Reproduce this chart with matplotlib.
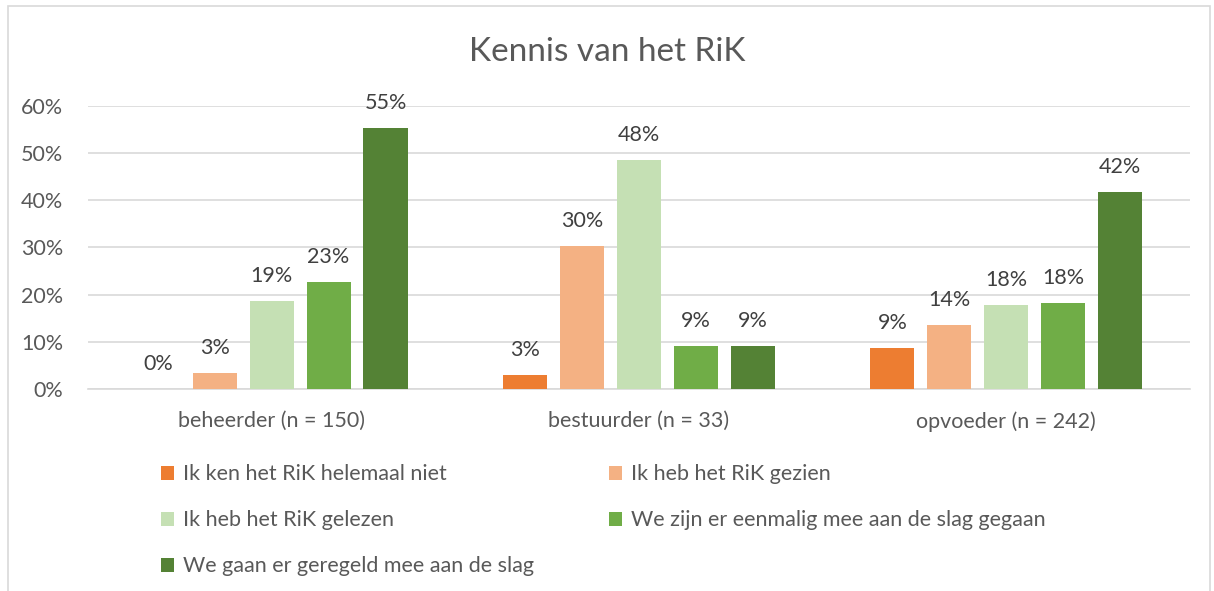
import matplotlib.pyplot as plt
import numpy as np
from matplotlib.patches import Rectangle

plt.rcParams["font.family"] = ["Lato", "DejaVu Sans"]

categories = ["beheerder (n = 150)", "bestuurder (n = 33)", "opvoeder (n = 242)"]
series = [
    "Ik ken het RiK helemaal niet",
    "Ik heb het RiK gezien",
    "Ik heb het RiK gelezen",
    "We zijn er eenmalig mee aan de slag gegaan",
    "We gaan er geregeld mee aan de slag",
]
values = [
    [0.000, 0.030, 0.087],
    [0.034, 0.303, 0.136],
    [0.187, 0.485, 0.178],
    [0.227, 0.091, 0.182],
    [0.553, 0.091, 0.417],
]
colors = ["#ED7D31", "#F4B183", "#C5E0B4", "#70AD47", "#548235"]

TXT = "#595959"

fig = plt.figure(figsize=(12.14, 5.91), dpi=100)
fig.patches.append(Rectangle((0.0066, -0.01), 0.99, 1.0, transform=fig.transFigure,
                             fill=False, edgecolor="#D9D9D9", linewidth=1.2))
ax = fig.add_axes([88 / 1214, 1 - 389 / 591, 1102 / 1214, 283 / 591])

x = np.arange(len(categories))
step, width = 0.155, 0.12
handles = []
for i, (name, vals, col) in enumerate(zip(series, values, colors)):
    pos = x + (i - 2) * step
    handles.append(ax.bar(pos, vals, width, color=col, label=name, zorder=3))
    for px, v in zip(pos, vals):
        ax.text(px, v + 0.032, f"{v * 100:.0f}%", ha="center", va="bottom",
                fontsize=15.5, color="#404040")

ax.set_xlim(-0.5, 2.5)
ax.set_ylim(0, 0.6)
ax.set_yticks(np.arange(0, 0.61, 0.1))
ax.set_yticklabels([f"{t}%" for t in range(0, 61, 10)])
ax.set_xticks(x)
ax.set_xticklabels(categories)
ax.tick_params(length=0, labelsize=15.5, labelcolor=TXT)
ax.tick_params(axis="x", pad=16)
ax.tick_params(axis="y", pad=18)
ax.grid(axis="y", color="#D9D9D9", linewidth=1.2, zorder=0)
for s in ["top", "right", "left"]:
    ax.spines[s].set_visible(False)
ax.spines["bottom"].set_color("#D9D9D9")
ax.spines["bottom"].set_linewidth(1.2)

fig.text(0.5, 0.912, "Kennis van het RiK", ha="center", va="center",
         fontsize=24, color=TXT)

# legend in two columns, filled row by row
leg_kw = dict(frameon=False, fontsize=15.5, labelcolor=TXT, handlelength=0.6,
              handleheight=0.6, handletextpad=0.4, labelspacing=1.21)
left = [0, 2, 4]
right = [1, 3]
fig.legend([handles[i] for i in left], [series[i] for i in left],
           loc="upper left", bbox_to_anchor=(142 / 1214, 1 - 445 / 591), **leg_kw)
fig.legend([handles[i] for i in right], [series[i] for i in right],
           loc="upper left", bbox_to_anchor=(590 / 1214, 1 - 445 / 591), **leg_kw)

fig.savefig("out.png", dpi=100)
